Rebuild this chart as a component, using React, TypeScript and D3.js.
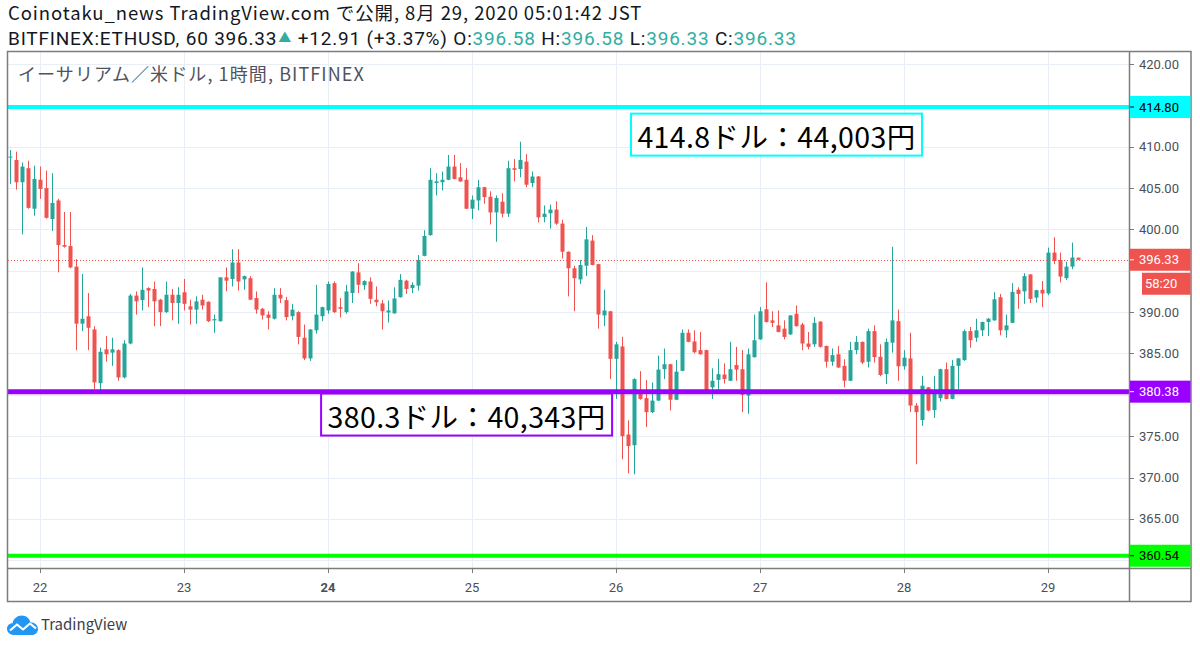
import React from 'react';
import * as d3 from 'd3';

// ---- data (hourly candles, BITFINEX ETHUSD, from 2020-08-21 19:00) ----
const START_UTC = Date.UTC(2020, 7, 21, 19);
const HOUR = 3600000;

const opens = [
  408.7, 408.4, 405.7, 407.4, 402.5, 406.0, 405.0, 401.25, 403.5, 398.1,
  398.0, 395.5, 388.6, 389.5, 387.9, 381.4, 385.5, 385.1, 385.4, 382.1,
  386.2, 392.0, 391.45, 392.9, 392.8, 391.5, 390.0, 392.1, 391.1, 392.4,
  390.7, 390.3, 391.5, 391.25, 389.0, 388.9, 394.2, 394.0, 396.0, 393.95,
  394.1, 391.7, 390.4, 389.7, 389.2, 392.1, 391.45, 389.5, 390.0, 386.9,
  384.4, 387.8, 389.5, 390.2, 393.5, 390.6, 390.0, 392.3, 394.8, 393.25,
  393.7, 391.5, 391.05, 389.95, 389.85, 391.8, 393.8, 392.9, 393.2, 396.8,
  399.3, 405.6, 405.7, 406.0, 407.6, 406.3, 406.0, 402.5, 403.5, 405.1,
  403.95, 402.05, 403.35, 401.9, 407.4, 407.3, 408.2, 405.6, 406.4, 401.5,
  401.95, 402.4, 400.7, 397.3, 395.3, 393.95, 395.6, 398.65, 395.8, 389.6,
  390.1, 384.35, 385.85, 375.2, 373.9, 380.1, 379.6, 377.9, 379.3, 383.1,
  383.7, 379.4, 382.9, 387.5, 386.45, 385.4, 385.4, 380.9, 381.8, 382.45,
  381.7, 383.6, 383.1, 379.9, 384.55, 386.7, 390.35, 389.0, 388.4, 388.0,
  387.3, 389.8, 388.5, 386.2, 386.1, 388.85, 385.9, 384.0, 384.9, 383.5,
  381.7, 385.4, 386.4, 384.0, 387.7, 384.6, 382.5, 386.3, 388.9, 383.45,
  384.4, 378.7, 376.95, 380.9, 378.15, 379.6, 383.1, 379.5, 383.5, 384.2,
  387.7, 386.9, 387.8, 388.8, 389.0, 391.8, 387.8, 388.7, 392.7, 392.5,
  394.55, 391.75, 392.7, 392.25, 397.2, 396.3, 394.1, 395.5, 396.58,
];
const highs = [
  409.6, 409.4, 408.1, 408.3, 407.7, 407.6, 407.1, 406.8, 403.7, 402.1,
  402.1, 396.4, 394.6, 392.3, 388.3, 385.7, 387.1, 386.9, 385.5, 386.6,
  392.2, 392.5, 395.4, 393.0, 393.7, 391.6, 393.7, 392.8, 393.0, 394.0,
  391.5, 391.9, 392.1, 391.3, 389.7, 394.2, 395.4, 397.6, 397.6, 394.4,
  394.35, 392.5, 390.5, 390.1, 392.9, 392.9, 391.85, 391.0, 390.1, 388.5,
  387.95, 393.3, 390.65, 393.7, 393.7, 391.7, 393.3, 394.95, 395.9, 393.85,
  394.2, 393.1, 391.45, 391.4, 393.0, 394.6, 393.9, 393.6, 396.9, 399.9,
  407.4, 406.8, 407.0, 409.0, 409.0, 408.0, 407.4, 404.1, 406.0, 405.15,
  404.6, 404.1, 404.35, 408.3, 408.5, 410.6, 409.1, 407.0, 406.45, 402.9,
  403.0, 403.4, 401.15, 397.35, 395.6, 396.3, 400.3, 399.3, 395.85, 392.7,
  390.15, 386.4, 387.0, 376.9, 382.0, 382.85, 381.8, 381.5, 384.75, 385.6,
  383.75, 384.2, 387.9, 387.9, 387.8, 387.6, 385.45, 383.2, 384.35, 383.8,
  386.4, 385.8, 385.4, 385.6, 389.7, 390.6, 393.6, 390.1, 390.2, 389.0,
  389.65, 390.8, 388.7, 387.6, 389.4, 388.9, 385.95, 385.6, 385.9, 384.3,
  386.4, 387.1, 386.45, 388.0, 388.4, 386.1, 386.8, 397.9, 390.3, 385.4,
  387.5, 379.0, 382.3, 380.95, 382.3, 383.15, 383.9, 384.2, 384.45, 387.9,
  388.2, 389.2, 388.85, 389.3, 392.4, 392.2, 389.7, 393.5, 393.0, 394.7,
  394.6, 392.7, 393.75, 397.8, 399.05, 397.2, 396.1, 398.4, 396.58,
];
const lows = [
  405.5, 404.8, 399.4, 402.5, 401.65, 403.7, 401.3, 399.8, 394.8, 397.8,
  395.3, 385.4, 387.7, 385.4, 380.7, 380.1, 384.0, 383.5, 381.7, 382.0,
  386.1, 389.7, 390.2, 390.6, 388.3, 388.3, 389.9, 389.0, 388.6, 390.2,
  388.5, 388.6, 390.3, 388.8, 387.5, 388.85, 392.5, 393.1, 392.6, 392.7,
  391.45, 389.8, 389.1, 387.9, 389.1, 391.1, 389.0, 389.0, 386.1, 384.2,
  384.1, 387.4, 388.9, 389.8, 389.9, 389.35, 389.8, 391.1, 392.3, 392.7,
  391.0, 390.7, 387.9, 388.75, 389.8, 391.75, 392.2, 392.3, 392.6, 396.75,
  399.25, 404.1, 404.7, 405.95, 406.05, 405.75, 402.45, 401.25, 402.3, 403.1,
  400.6, 398.5, 401.45, 401.5, 405.8, 406.3, 405.1, 405.1, 400.85, 400.85,
  400.1, 400.55, 396.5, 391.9, 390.1, 393.4, 394.35, 395.65, 388.0, 388.3,
  381.9, 379.5, 372.2, 370.5, 370.4, 379.4, 376.1, 377.8, 379.25, 381.9,
  378.1, 379.35, 382.85, 386.35, 385.0, 384.85, 380.1, 379.5, 380.6, 381.35,
  381.65, 381.7, 377.9, 377.7, 384.5, 386.65, 388.75, 388.2, 387.55, 386.7,
  387.25, 388.25, 385.4, 385.5, 385.8, 385.7, 383.3, 383.5, 383.25, 380.9,
  381.65, 384.9, 383.7, 383.3, 383.9, 382.25, 381.3, 385.1, 381.7, 383.05,
  377.9, 371.6, 376.25, 378.0, 377.2, 379.2, 379.45, 379.45, 380.7, 384.1,
  385.7, 386.4, 387.1, 387.1, 388.95, 387.2, 386.9, 388.65, 390.4, 391.0,
  391.1, 391.15, 390.6, 392.05, 395.8, 393.6, 393.9, 395.2, 396.33,
];
const closes = [
  408.8, 405.7, 407.6, 402.6, 406.1, 404.9, 401.4, 403.2, 398.1, 397.9,
  395.4, 388.6, 389.2, 388.1, 381.5, 385.2, 384.9, 385.5, 382.1, 386.2,
  392.0, 391.3, 392.7, 392.6, 391.3, 390.0, 392.1, 391.1, 392.1, 391.0,
  390.3, 391.3, 390.8, 388.9, 389.15, 394.2, 393.8, 396.0, 393.7, 394.35,
  391.5, 390.3, 389.6, 389.3, 392.1, 391.65, 389.4, 390.3, 387.0, 384.4,
  387.9, 389.7, 390.6, 393.4, 390.0, 390.4, 392.5, 394.9, 393.3, 393.75,
  391.6, 391.2, 390.1, 390.2, 391.65, 393.9, 392.8, 393.3, 396.3, 399.2,
  406.0, 405.8, 406.0, 407.6, 406.1, 405.8, 402.5, 403.6, 405.1, 403.9,
  402.05, 403.8, 401.9, 407.4, 407.2, 408.4, 405.4, 406.4, 401.45, 401.9,
  402.4, 400.7, 397.3, 395.3, 394.1, 395.7, 398.8, 395.7, 389.7, 390.2,
  384.35, 386.1, 375.0, 373.8, 381.9, 379.5, 377.9, 379.3, 383.05, 383.7,
  379.4, 382.8, 387.5, 386.4, 385.15, 384.9, 380.5, 381.7, 382.5, 381.9,
  383.1, 383.05, 380.0, 384.9, 386.6, 390.1, 388.8, 388.7, 387.6, 387.0,
  389.6, 388.3, 386.2, 385.8, 388.7, 385.8, 384.0, 384.8, 383.3, 381.7,
  385.4, 386.4, 383.9, 387.7, 384.55, 382.4, 386.4, 389.0, 383.45, 384.5,
  378.7, 377.9, 381.1, 378.1, 380.3, 383.1, 379.5, 383.5, 384.4, 387.7,
  386.6, 387.8, 388.8, 389.2, 391.55, 387.8, 388.4, 392.45, 392.2, 394.35,
  391.6, 392.65, 392.25, 397.2, 396.2, 394.3, 395.5, 396.6, 396.33,
];

const gridPrices = [360, 365, 370, 375, 380, 385, 390, 395, 400, 405, 410, 415, 420];
const labeledPrices = [365, 370, 375, 385, 390, 400, 405, 410, 420];
const levelPrices = [414.8, 380.38, 360.54];
const levelLabels = ['414.80', '380.38', '360.54'];
const lastPrice = 396.33;
const lastPriceLabel = '396.33';
const countdownLabel = '58:20';
const noteTexts = ['414.8ドル：44,003円', '380.3ドル：40,343円'];

const headerLine1 = 'Coinotaku_news TradingView.com で公開, 8月 29, 2020 05:01:42 JST';
const symbolText = 'BITFINEX:ETHUSD, 60 396.33';
const changeText = ' +12.91 (+3.37%)';
const ohlcNames = ['O', 'H', 'L', 'C'];
const ohlcValues = ['396.58', '396.58', '396.33', '396.33'];
const chartTitle = 'イーサリアム／米ドル, 1時間, BITFINEX';

// ---- styling ----
const UP = '#26a69a';
const DOWN = '#ef5350';
const TEAL_TEXT = '#32ad9f';
const GRID = '#e7eef5';
const BORDER = '#7c7c7c';
const LEVEL_COLORS = ['#00ffff', '#9900ff', '#00ff00'];
const LEVEL_TEXT = ['#000000', '#ffffff', '#000000'];
const LEVEL_WIDTH = [4, 5, 4];
const CJK = '"Noto Sans CJK JP", "Noto Sans", sans-serif';
const LATIN = 'Roboto, "Noto Sans", sans-serif';
const AXIS_FONT = 'Roboto, "Noto Sans", sans-serif';

export default function App() {
  const W = 1200;
  const H = 647;
  const left = 8;
  const plotRight = 1129;
  const outerRight = 1191;
  const top = 52;
  const plotBottom = 568;
  const outerBottom = 602;

  const y = d3.scaleLinear().domain([360, 420]).range([560.2, 64]);
  const t0 = new Date(START_UTC);
  const tLast = new Date(START_UTC + (opens.length - 1) * HOUR);
  const x = d3.scaleUtc().domain([t0, tLast]).range([10, 1078]);

  const candles = opens.map((o, i) => ({
    t: new Date(START_UTC + i * HOUR),
    o,
    h: highs[i],
    l: lows[i],
    c: closes[i],
  }));

  const days = d3
    .utcDay.range(d3.utcDay.ceil(t0), new Date(START_UTC + 200 * HOUR))
    .filter((d) => x(d) < plotRight - 4);
  const dayFmt = d3.utcFormat('%-d');

  const bodyW = 4;
  const labelH = 22;

  // annotation boxes anchored in data space
  const notes = [
    { t: new Date(START_UTC + 103.5 * HOUR), p: 414.0, color: LEVEL_COLORS[0], text: noteTexts[0] },
    { t: new Date(START_UTC + 51.85 * HOUR), p: 380.15, color: LEVEL_COLORS[1], text: noteTexts[1] },
  ];
  const noteW = 291;
  const noteH = 42;

  return (
    <svg
      width={W}
      height={H}
      viewBox={`0 0 ${W} ${H}`}
      style={{ position: 'absolute', left: 0, top: 0, background: '#fff' }}
    >
      <rect x={0} y={0} width={W} height={H} fill="#fff" />

      {/* header */}
      <text x={8} y={20} fontFamily={CJK} fontSize={18.5} letterSpacing={0.9} fill="#131722">
        {headerLine1}
      </text>
      <text x={8} y={45} fontFamily={LATIN} fontSize={19} letterSpacing={0.8} fill="#131722">
        <tspan>{symbolText}</tspan>
        <tspan fill={TEAL_TEXT} fontFamily={CJK} fontSize={13} dx={1} dy={-3}>▲</tspan>
        <tspan dy={3}>{changeText}</tspan>
        {ohlcNames.map((n, i) => (
          <React.Fragment key={n}>
            <tspan fill="#131722">{` ${n}:`}</tspan>
            <tspan fill={TEAL_TEXT}>{ohlcValues[i]}</tspan>
          </React.Fragment>
        ))}
      </text>

      {/* grid */}
      <g>
        {gridPrices.map((p) => (
          <line key={p} x1={left} x2={plotRight} y1={Math.round(y(p)) + 0.5} y2={Math.round(y(p)) + 0.5} stroke={GRID} strokeWidth={1} />
        ))}
        {days.map((d) => (
          <line key={+d} x1={Math.round(x(d)) + 0.5} x2={Math.round(x(d)) + 0.5} y1={top} y2={plotBottom} stroke={GRID} strokeWidth={1} />
        ))}
      </g>

      {/* chart title */}
      <text x={18} y={81} fontFamily={CJK} fontSize={18} letterSpacing={1.1} fill="#50535e">
        {chartTitle}
      </text>

      {/* candles */}
      <g>
        {candles.map((k, i) => {
          const cx = Math.round(x(k.t));
          const col = k.c >= k.o ? UP : DOWN;
          const yTop = y(Math.max(k.o, k.c));
          const yBot = y(Math.min(k.o, k.c));
          const bh = Math.max(1, yBot - yTop);
          return (
            <g key={i}>
              <line x1={cx + 0.5} x2={cx + 0.5} y1={y(k.h)} y2={y(k.l)} stroke={col} strokeWidth={1} />
              <rect x={cx + 0.5 - bodyW / 2} y={yTop} width={bodyW} height={bh} fill={col} />
            </g>
          );
        })}
      </g>

      {/* horizontal levels */}
      {levelPrices.map((p, i) => (
        <line key={p} x1={left} x2={plotRight} y1={y(p)} y2={y(p)} stroke={LEVEL_COLORS[i]} strokeWidth={LEVEL_WIDTH[i]} />
      ))}

      {/* last price dotted line */}
      <line x1={left} x2={plotRight} y1={Math.round(y(lastPrice)) + 0.5} y2={Math.round(y(lastPrice)) + 0.5} stroke={DOWN} strokeWidth={1} strokeDasharray="1 2" />

      {/* notes */}
      {notes.map((n, i) => {
        const nx = x(n.t);
        const ny = y(n.p);
        return (
          <g key={i}>
            <rect x={nx} y={ny} width={noteW} height={noteH} fill="#fff" stroke={n.color} strokeWidth={2} />
            <text x={nx + noteW / 2} y={ny + noteH / 2 + 1} textAnchor="middle" dominantBaseline="central" fontFamily={CJK} fontSize={28.5} letterSpacing={0.4} fill="#000">
              {n.text}
            </text>
          </g>
        );
      })}

      {/* frame */}
      <rect x={left - 0.5} y={top - 0.5} width={outerRight - left + 0.5} height={outerBottom - top} fill="none" stroke={BORDER} strokeWidth={1.5} />
      <line x1={plotRight + 0.5} x2={plotRight + 0.5} y1={top} y2={outerBottom} stroke={BORDER} strokeWidth={1.5} />
      <line x1={left} x2={outerRight} y1={plotBottom + 0.5} y2={plotBottom + 0.5} stroke={BORDER} strokeWidth={1.5} />

      {/* right axis */}
      <g fontFamily={AXIS_FONT} fontSize={13}>
        {labeledPrices.map((p) => (
          <g key={p}>
            <line x1={plotRight + 1} x2={plotRight + 5} y1={Math.round(y(p)) + 0.5} y2={Math.round(y(p)) + 0.5} stroke={BORDER} />
            <text x={plotRight + 10} y={y(p)} dominantBaseline="central" fill="#4c4f57">
              {d3.format('.2f')(p)}
            </text>
          </g>
        ))}
        {levelPrices.map((p, i) => (
          <g key={p}>
            <rect x={plotRight + 1} y={y(p) - labelH / 2} width={outerRight - plotRight - 1.5} height={labelH} fill={LEVEL_COLORS[i]} />
            <line x1={plotRight + 1} x2={plotRight + 5} y1={y(p)} y2={y(p)} stroke={LEVEL_TEXT[i]} />
            <text x={plotRight + 10} y={y(p)} dominantBaseline="central" fill={LEVEL_TEXT[i]}>
              {levelLabels[i]}
            </text>
          </g>
        ))}
        <rect x={plotRight + 1} y={y(lastPrice) - 11} width={outerRight - plotRight - 1.5} height={labelH} fill={DOWN} />
        <line x1={plotRight + 1} x2={plotRight + 5} y1={y(lastPrice)} y2={y(lastPrice)} stroke="#fff" />
        <text x={plotRight + 10} y={y(lastPrice)} dominantBaseline="central" fill="#fff">
          {lastPriceLabel}
        </text>
        <rect x={plotRight + 13} y={y(lastPrice) + 13} width={outerRight - plotRight - 13.5} height={labelH} fill={DOWN} />
        <text x={plotRight + 16} y={y(lastPrice) + 24} dominantBaseline="central" fill="#fff">
          {countdownLabel}
        </text>
      </g>

      {/* bottom axis */}
      <g fontFamily={AXIS_FONT} fontSize={13}>
        {days.map((d) => (
          <g key={+d}>
            <line x1={Math.round(x(d)) + 0.5} x2={Math.round(x(d)) + 0.5} y1={plotBottom} y2={plotBottom + 5} stroke={BORDER} />
            <text
              x={x(d)}
              y={587}
              textAnchor="middle"
              dominantBaseline="central"
              fill="#4c4f57"
              fontWeight={d.getUTCDay() === 1 ? 'bold' : 'normal'}
            >
              {dayFmt(d)}
            </text>
          </g>
        ))}
      </g>

      {/* TradingView logo */}
      <g transform="translate(7,614)">
        <path
          d="M7,21 C2.5,21 0,18 0,14.8 C0,11.6 2.6,9.2 5.6,9.3 C6.4,4.6 10.3,1.5 14.8,1.5 C19,1.5 22.4,4.3 23.4,8.2 C27.8,8.2 31,11.3 31,15 C31,18.4 28.3,21 24.8,21 Z"
          fill="#2196f3"
        />
        <polyline points="3,16.5 10,10.5 16,15.5 23,9.5 29,14.5" fill="none" stroke="#fff" strokeWidth={2.2} strokeLinejoin="round" />
      </g>
      <text x={41} y={630} fontFamily={CJK} fontSize={15} fill="#3a3e47">
        TradingView
      </text>
    </svg>
  );
}
